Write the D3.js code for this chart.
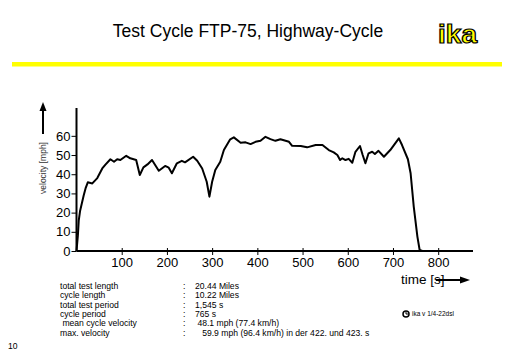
<!DOCTYPE html>
<html>
<head>
<meta charset="utf-8">
<script src="https://cdn.jsdelivr.net/npm/d3@7"></script>
<style>
  body { margin: 0; background: #fff; }
  svg { display: block; font-family: "Liberation Sans", Arial, sans-serif; }
</style>
</head>
<body>
<svg id="chart" width="512" height="354"></svg>
<script>
// HWFET trace (s, mph)
const timeS = [0, 3, 5, 8, 12, 16, 20, 25, 35, 46, 57, 64, 75, 83, 90, 97, 110, 119, 132, 140, 148, 157, 167, 182, 196, 204, 211, 222, 233, 240, 258, 267, 278, 288, 294, 300, 307, 318, 326, 340, 348, 363, 374, 385, 396, 407, 418, 429, 440, 451, 470, 477, 496, 510, 529, 544, 558, 569, 577, 583, 588, 595, 602, 610, 617, 627, 633, 639, 646, 654, 660, 668, 680, 694, 713, 720, 733, 739, 746, 754, 759, 765];
const speedMph = [0, 8, 16, 21, 25, 29, 32.6, 35.8, 35.2, 38, 43, 45, 47.8, 46.5, 47.8, 47.4, 49.6, 48.3, 47.4, 39.6, 43.6, 45.1, 47.4, 41.8, 44.3, 43.4, 40.5, 45.7, 47, 46.2, 49.1, 47, 43, 36.1, 28.3, 36.1, 42.2, 46.5, 52.6, 58.2, 59.2, 56.4, 56.6, 55.7, 56.9, 57.4, 59.5, 58.3, 57.4, 58.2, 56.9, 54.8, 54.7, 54, 55.2, 55.2, 52.6, 51.4, 50, 47.4, 48.3, 47.4, 48, 46, 51.7, 54.7, 50, 45.7, 50.9, 51.7, 50.5, 52.2, 49.1, 52.6, 58.7, 55.2, 47.8, 40.5, 23, 7.5, 0.5, 0];

const xTicks = [100, 200, 300, 400, 500, 600, 700, 800];
const yTicks = [0, 10, 20, 30, 40, 50, 60];

const infoLabels = ["total test length", "cycle length", "total test period", "cycle period", " mean cycle velocity", "max. velocity"];
const infoValues = ["20.44 Miles", "10.22 Miles", "1,545 s", "765 s", " 48.1 mph (77.4 km/h)", "   59.9 mph (96.4 km/h) in der 422. und 423. s"];

const svg = d3.select("#chart");

// header
svg.append("text")
  .attr("x", 248).attr("y", 37)
  .attr("text-anchor", "middle")
  .attr("font-size", 17.5)
  .attr("fill", "#000")
  .text("Test Cycle FTP-75, Highway-Cycle");

svg.append("text")
  .attr("x", 438).attr("y", 43)
  .attr("font-size", 25)
  .attr("font-weight", "bold")
  .attr("fill", "#ffff00")
  .attr("stroke", "#000")
  .attr("stroke-width", 1.2)
  .attr("textLength", 39)
  .attr("lengthAdjust", "spacingAndGlyphs")
  .text("ika");

svg.append("rect")
  .attr("x", 12).attr("y", 62)
  .attr("width", 490).attr("height", 4.5)
  .attr("fill", "#ffff00");

// scales
const x = d3.scaleLinear().domain([0, 877]).range([76.5, 473]);
const y = d3.scaleLinear().domain([0, 74.5]).range([251, 108]);

const g = svg.append("g");

// axes drawn by hand-ish through d3 axis generators
const xAxis = d3.axisBottom(x).tickValues(xTicks).tickSize(0).tickPadding(7);
const yAxis = d3.axisLeft(y).tickValues(yTicks).tickSize(5).tickPadding(1);

const gx = g.append("g").attr("transform", `translate(0,${y(0)})`).call(xAxis);
gx.select(".domain").attr("stroke", "#000").attr("stroke-width", 2).attr("d", `M${x(0)},0H${x(877)}`);
gx.selectAll(".tick line").remove();
gx.selectAll(".tick").append("line").attr("y1", -3).attr("y2", 4).attr("stroke", "#000").attr("stroke-width", 1);
gx.selectAll(".tick text").attr("font-size", 13).attr("fill", "#000").attr("font-family", "Liberation Sans, Arial, sans-serif");

const gy = g.append("g").attr("transform", `translate(${x(0)},0)`).call(yAxis);
gy.select(".domain").attr("stroke", "#000").attr("stroke-width", 2).attr("d", `M0,${y(0)}V${y(74.5)}`);
gy.selectAll(".tick line").attr("stroke", "#000").attr("stroke-width", 1);
gy.selectAll(".tick text").attr("font-size", 13).attr("fill", "#000").attr("font-family", "Liberation Sans, Arial, sans-serif");

// velocity trace
const pts = timeS.map((t, i) => [t, speedMph[i]]);
g.append("path")
  .datum(pts)
  .attr("fill", "none")
  .attr("stroke", "#000")
  .attr("stroke-width", 2)
  .attr("stroke-linejoin", "round")
  .attr("d", d3.line().x(d => x(d[0])).y(d => y(d[1])));

// axis titles with arrows
svg.append("text")
  .attr("transform", "translate(46,168) rotate(-90)")
  .attr("text-anchor", "middle")
  .attr("font-size", 8.5)
  .attr("fill", "#333")
  .text("velocity [mph]");
svg.append("line").attr("x1", 43).attr("x2", 43).attr("y1", 134).attr("y2", 109).attr("stroke", "#000").attr("stroke-width", 2);
svg.append("path").attr("d", "M43,102L39.5,111H46.5Z").attr("fill", "#000");

svg.append("text")
  .attr("x", 401).attr("y", 284)
  .attr("font-size", 13.5)
  .attr("fill", "#000")
  .text("time [s]");
svg.append("line").attr("x1", 436).attr("x2", 462).attr("y1", 280).attr("y2", 280).attr("stroke", "#000").attr("stroke-width", 2);
svg.append("path").attr("d", "M470,280L460,276.5V283.5Z").attr("fill", "#000");

// info block
const info = svg.append("g").attr("font-size", 8.6).attr("fill", "#000");
infoLabels.forEach((lab, i) => {
  const yy = 289 + i * 9.3;
  info.append("text").attr("x", 60).attr("y", yy).attr("xml:space", "preserve").style("white-space", "pre").text(lab);
  info.append("text").attr("x", 183).attr("y", yy).text(":");
  info.append("text").attr("x", 195).attr("y", yy).style("white-space", "pre").text(infoValues[i]);
});

svg.append("text").attr("x", 8).attr("y", 349).attr("font-size", 8.6).attr("fill", "#000").text("10");

// small stamp
svg.append("circle").attr("cx", 406).attr("cy", 314).attr("r", 3).attr("fill", "none").attr("stroke", "#000").attr("stroke-width", 1.5);
svg.append("path").attr("d", "M406,312V314H408").attr("fill", "none").attr("stroke", "#000").attr("stroke-width", 1);
svg.append("text").attr("x", 412).attr("y", 316).attr("font-size", 6.5).attr("fill", "#000").text("ika v 1/4-22dsl");
</script>
</body>
</html>
